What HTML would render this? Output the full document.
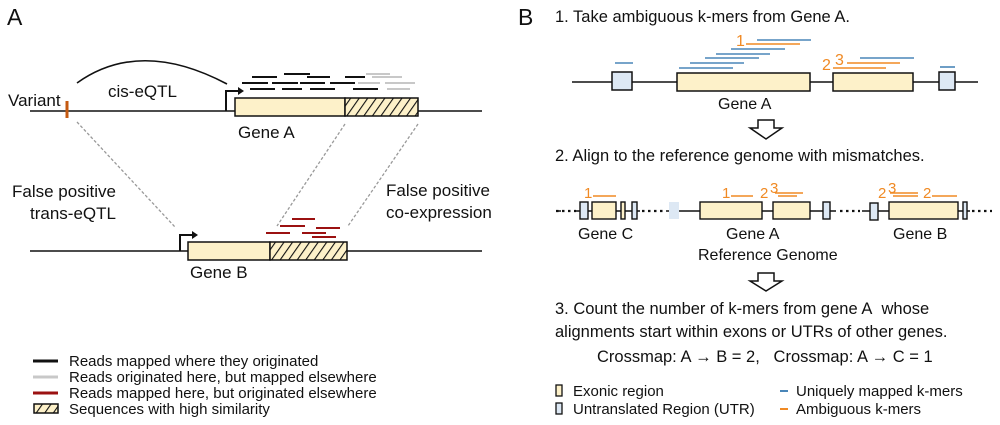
<!DOCTYPE html><html><head><meta charset="utf-8"><style>body{margin:0;background:#fff}svg{display:block}text{font-family:"Liberation Sans",Arial,sans-serif;fill:#111}.o{fill:#f08a24}</style></head><body>
<svg width="1000" height="425" viewBox="0 0 1000 425" xmlns="http://www.w3.org/2000/svg">
<defs><pattern id="h" width="7" height="7" patternUnits="userSpaceOnUse" patternTransform="rotate(35)"><rect width="7" height="7" fill="#fdf1c9"/><line x1="0" y1="0" x2="0" y2="7" stroke="#111" stroke-width="2.2"/></pattern></defs>
<text x="7" y="25" font-size="23">A</text>
<text x="518" y="25" font-size="23">B</text>
<!-- Panel A -->
<line x1="30" y1="111" x2="482" y2="111" stroke="#111" stroke-width="1.6"/>
<line x1="67" y1="101" x2="67" y2="118" stroke="#c55a11" stroke-width="3"/>
<text x="8" y="106" font-size="17">Variant</text>
<path d="M77 83 Q140 38 227 84" fill="none" stroke="#111" stroke-width="1.6"/>
<text x="108" y="97" font-size="17">cis-eQTL</text>
<path d="M226 111 V91 H240" fill="none" stroke="#111" stroke-width="2"/><path d="M238 87 L244 91 L238 95Z" fill="#111"/>
<rect x="235" y="98" width="110" height="18" fill="#fdf1c9" stroke="#111" stroke-width="1.5"/>
<rect x="345" y="98" width="73" height="18" fill="url(#h)" stroke="#111" stroke-width="1.5"/>
<g stroke="#111" stroke-width="2">
<line x1="252" y1="77" x2="277" y2="77"/><line x1="284" y1="74" x2="310" y2="74"/><line x1="307" y1="77" x2="330" y2="77"/><line x1="345" y1="77" x2="365" y2="77"/>
<line x1="242" y1="83" x2="268" y2="83"/><line x1="272" y1="83" x2="298" y2="83"/><line x1="300" y1="83" x2="325" y2="83"/><line x1="330" y1="83" x2="355" y2="83"/>
<line x1="250" y1="89" x2="275" y2="89"/><line x1="282" y1="89" x2="302" y2="89"/><line x1="310" y1="89" x2="335" y2="89"/><line x1="353" y1="89" x2="378" y2="89"/>
</g>
<g stroke="#c8c8c8" stroke-width="2"><line x1="366" y1="74" x2="390" y2="74"/><line x1="372" y1="77" x2="402" y2="77"/><line x1="358" y1="83" x2="380" y2="83"/><line x1="385" y1="83" x2="415" y2="83"/><line x1="387" y1="89" x2="410" y2="89"/></g>
<text x="238" y="138" font-size="17">Gene A</text>
<g stroke="#999" stroke-width="1.3" stroke-dasharray="3,2" fill="none"><line x1="77" y1="122" x2="175" y2="227"/><line x1="345" y1="124" x2="277" y2="226"/><line x1="418" y1="124" x2="348" y2="226"/></g>
<text x="12" y="197" font-size="17">False positive</text><text x="30" y="219" font-size="17">trans-eQTL</text>
<text x="386" y="196" font-size="17">False positive</text><text x="386" y="218" font-size="17">co-expression</text>
<line x1="30" y1="251" x2="482" y2="251" stroke="#111" stroke-width="1.6"/>
<path d="M180 251 V235 H194" fill="none" stroke="#111" stroke-width="2"/><path d="M192 231 L198 235 L192 239Z" fill="#111"/>
<rect x="188" y="242" width="82" height="18" fill="#fdf1c9" stroke="#111" stroke-width="1.5"/>
<rect x="270" y="242" width="77" height="18" fill="url(#h)" stroke="#111" stroke-width="1.5"/>
<g stroke="#9b1111" stroke-width="2"><line x1="292" y1="219" x2="315" y2="219"/><line x1="280" y1="226" x2="305" y2="226"/><line x1="316" y1="228" x2="340" y2="228"/><line x1="266" y1="233" x2="290" y2="233"/><line x1="302" y1="233" x2="326" y2="233"/><line x1="312" y1="237" x2="336" y2="237"/></g>
<text x="190" y="278" font-size="17">Gene B</text>
<g stroke-width="3"><line x1="33" y1="361" x2="58" y2="361" stroke="#111"/><line x1="33" y1="377" x2="58" y2="377" stroke="#c8c8c8"/><line x1="33" y1="393" x2="58" y2="393" stroke="#9b1111"/></g>
<rect x="34" y="404" width="24" height="9" fill="url(#h)" stroke="#111" stroke-width="1.5"/>
<g font-size="15"><text x="69" y="366">Reads mapped where they originated</text><text x="69" y="382">Reads originated here, but mapped elsewhere</text><text x="69" y="398">Reads mapped here, but originated elsewhere</text><text x="69" y="414">Sequences with high similarity</text></g>
<!-- Panel B -->
<g font-size="16.5"><text x="555" y="22">1. Take ambiguous k-mers from Gene A.</text>
<text x="555" y="161">2. Align to the reference genome with mismatches.</text>
<text x="555" y="314">3. Count the number of k-mers from gene A&#160; whose</text>
<text x="555" y="337">alignments start within exons or UTRs of other genes.</text>
<text x="597" y="362">Crossmap: A → B = 2, &#160;&#160;Crossmap: A → C = 1</text></g>
<line x1="572" y1="82" x2="978" y2="82" stroke="#111" stroke-width="1.6"/>
<rect x="612" y="72" width="20" height="18" fill="#dde8f4" stroke="#111" stroke-width="1.5"/>
<rect x="677" y="73" width="133" height="18" fill="#fdf1c9" stroke="#111" stroke-width="1.5"/>
<rect x="833" y="73" width="80" height="18" fill="#fdf1c9" stroke="#111" stroke-width="1.5"/>
<rect x="939" y="72" width="16" height="18" fill="#dde8f4" stroke="#111" stroke-width="1.5"/>
<g stroke="#4a86b8" stroke-width="1.6"><line x1="615" y1="63" x2="633" y2="63"/><line x1="940" y1="67" x2="955" y2="67"/><line x1="757" y1="40" x2="811" y2="40"/><line x1="731" y1="49" x2="785" y2="49"/><line x1="716" y1="54" x2="770" y2="54"/><line x1="705" y1="58" x2="759" y2="58"/><line x1="690" y1="63" x2="744" y2="63"/><line x1="679" y1="68" x2="733" y2="68"/><line x1="860" y1="58" x2="914" y2="58"/></g>
<g stroke="#f08a24" stroke-width="1.6"><line x1="746" y1="44" x2="800" y2="44"/><line x1="847" y1="63" x2="900" y2="63"/><line x1="833" y1="68" x2="886" y2="68"/></g>
<g font-size="16"><text x="736" y="46" style="fill:#f08a24">1</text><text x="822" y="70" style="fill:#f08a24">2</text><text x="835" y="65" style="fill:#f08a24">3</text></g>
<text x="718" y="109" font-size="16">Gene A</text>
<path d="M758 120 H774 V128 H782 L766 139 L750 128 H758Z" fill="#fff" stroke="#111" stroke-width="1.5"/>
<!-- step2 -->
<line x1="556" y1="211" x2="990" y2="211" stroke="#111" stroke-width="1.6"/>
<g fill="#fff"><rect x="561" y="205" width="14" height="12"/><rect x="640" y="205" width="26" height="12"/><rect x="836" y="205" width="26" height="12"/><rect x="970" y="205" width="20" height="12"/></g>
<g stroke="#111" stroke-width="2.2" stroke-dasharray="2.5,3.5"><line x1="556" y1="211" x2="576" y2="211"/><line x1="642" y1="211" x2="665" y2="211"/><line x1="840" y1="211" x2="860" y2="211"/><line x1="972" y1="211" x2="992" y2="211"/></g>
<g stroke="#111" stroke-width="1.4">
<rect x="580" y="202" width="8" height="17" fill="#dde8f4"/><rect x="592" y="202" width="24" height="17" fill="#fdf1c9"/><rect x="621" y="202" width="4" height="17" fill="#fdf1c9"/><rect x="632" y="202" width="5" height="17" fill="#dde8f4"/>
<rect x="700" y="202" width="62" height="17" fill="#fdf1c9"/><rect x="773" y="202" width="37" height="17" fill="#fdf1c9"/><rect x="823" y="202" width="7" height="17" fill="#dde8f4"/>
<rect x="870" y="203" width="8" height="17" fill="#dde8f4"/><rect x="889" y="202" width="69" height="17" fill="#fdf1c9"/><rect x="963" y="202" width="4" height="17" fill="#dde8f4"/>
</g>
<rect x="669" y="202" width="10" height="17" fill="#dde8f4"/>
<g stroke="#f08a24" stroke-width="1.6"><line x1="593" y1="196" x2="616" y2="196"/><line x1="731" y1="196" x2="753" y2="196"/><line x1="778" y1="196" x2="797" y2="196"/><line x1="775" y1="193" x2="803" y2="193"/><line x1="893" y1="196" x2="918" y2="196"/><line x1="890" y1="193" x2="918" y2="193"/><line x1="932" y1="196" x2="957" y2="196"/></g>
<g font-size="15"><text x="584" y="198" style="fill:#f08a24">1</text><text x="722" y="198" style="fill:#f08a24">1</text><text x="760" y="198" style="fill:#f08a24">2</text><text x="770" y="193" style="fill:#f08a24">3</text><text x="878" y="198" style="fill:#f08a24">2</text><text x="888" y="193" style="fill:#f08a24">3</text><text x="923" y="198" style="fill:#f08a24">2</text></g>
<g font-size="16"><text x="578" y="239">Gene C</text><text x="726" y="239">Gene A</text><text x="893" y="239">Gene B</text><text x="698" y="260">Reference Genome</text></g>
<path d="M758 273 H774 V281 H782 L766 291 L750 281 H758Z" fill="#fff" stroke="#111" stroke-width="1.5"/>
<rect x="556" y="385" width="6" height="11" fill="#fdf1c9" stroke="#111" stroke-width="1.3"/>
<rect x="556" y="403" width="6" height="11" fill="#dde8f4" stroke="#111" stroke-width="1.3"/>
<line x1="780" y1="391" x2="788" y2="391" stroke="#4a86b8" stroke-width="2"/><line x1="780" y1="409" x2="788" y2="409" stroke="#f08a24" stroke-width="2"/>
<g font-size="15"><text x="573" y="396">Exonic region</text><text x="573" y="414">Untranslated Region (UTR)</text><text x="796" y="396">Uniquely mapped k-mers</text><text x="796" y="414">Ambiguous k-mers</text></g>
</svg></body></html>
